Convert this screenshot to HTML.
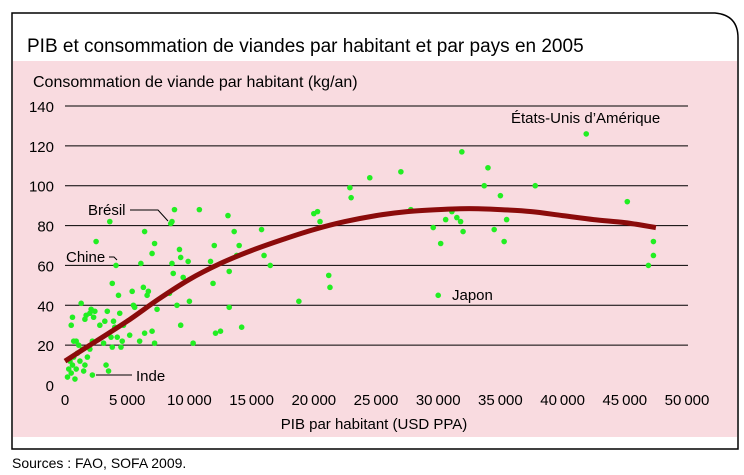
<!DOCTYPE html>
<html><head><meta charset="utf-8"><style>
body{margin:0;background:#fff;width:744px;height:475px;overflow:hidden;font-family:"Liberation Sans",sans-serif}
svg{display:block}
text{font-family:"Liberation Sans",sans-serif;fill:#000}
</style></head><body>
<svg width="744" height="475">
<path d="M12,13 H715 Q738,15 738,38 V449 H12 Z" fill="#fff" stroke="#000" stroke-width="1.5"/>
<rect x="13" y="61" width="724" height="376" fill="#f9dbe0"/>
<text x="27" y="52" font-size="19">PIB et consommation de viandes par habitant et par pays en 2005</text>
<text x="33" y="87" font-size="16">Consommation de viande par habitant (kg/an)</text>
<text x="374" y="429" font-size="15" text-anchor="middle">PIB par habitant (USD PPA)</text>
<text x="12" y="468" font-size="14">Sources : FAO, SOFA 2009.</text>
<g id="grid"></g><g id="pts"></g><g id="trend"></g><g id="ann"></g>
</svg>
<script>
const yTicks=[0,20,40,60,80,100,120,140];
const xTicks=[0,5000,10000,15000,20000,25000,30000,35000,40000,45000,50000];
const gdp=[200,300,400,500,600,700,800,900,1000,1200,1400,1600,1800,2000,2200,1100,1500,700,500,600,900,1300,1600,1700,2000,2100,2400,2300,2500,2200,2800,3200,3100,3300,3400,3500,3600,3700,3800,3900,4000,4100,4200,4300,4400,4500,4600,4700,3800,5200,5400,5500,5600,6000,6100,6300,6400,6400,6600,6700,7000,7000,7200,7200,7400,8400,8500,8600,8600,8700,8800,9000,9200,9300,9300,9500,9900,10000,10300,10800,11700,12000,11900,12100,12500,13100,13200,13200,13600,14000,14200,13800,15800,16000,16500,18800,20000,20300,21200,21300,20500,22900,23000,24500,27000,27800,29600,30200,30600,30000,31100,31500,31800,31900,32000,33700,34000,34500,35000,35300,35500,37800,41900,45200,46900,47300,47300];
const meat=[4,8,12,6,10,14,3,8,16,12,18,10,14,18,22,20,7,22,30,34,22,41,33,35,36,38,37,34,72,5,30,32,21,10,37,7,82,24,51,32,29,60,24,45,36,19,22,30,19,25,47,40,39,22,61,49,77,26,45,47,27,66,71,21,38,46,81,82,61,56,88,40,68,30,64,54,62,42,21,88,62,70,51,26,27,85,57,39,77,70,29,65,78,65,60,42,86,87,55,49,82,99,94,104,107,88,79,71,83,45,87,84,82,117,77,100,109,78,95,72,83,100,126,92,60,65,72];
const trendX=[0,2500,5000,7500,10000,12500,15000,17500,20000,22500,25000,27500,30000,32500,35000,37500,40000,42500,45000,47500];
const trendY=[12,22,32,43,53,61,67.5,73,78,82,85,87,88,88.5,88,87,85,83,81.5,79];
const X=v=>65+v*(622/50000), Y=v=>385-v*(279/140);
const NS="http://www.w3.org/2000/svg";
function mk(t,a,p){const e=document.createElementNS(NS,t);for(const k in a)e.setAttribute(k,a[k]);p.appendChild(e);return e;}
const grid=document.getElementById('grid');
yTicks.forEach(v=>{
 if(v>0){const l=mk('line',{x1:65,x2:688,y1:Y(v),y2:Y(v),stroke:'#000','stroke-width':1},grid);
 
 }
 const t=mk('text',{x:54,y:Y(v)+6,'font-size':15,'text-anchor':'end'},grid);t.textContent=v;
 
 
});
xTicks.forEach(v=>{
 const t=mk('text',{x:X(v),y:405,'font-size':15,'text-anchor':'middle'},grid);
 t.textContent=v===0?'0':(v/1000)+'\u2009000';
 
 
});
const pts=document.getElementById('pts');
gdp.forEach((g,i)=>{
 const c=mk('circle',{cx:X(g),cy:Y(meat[i]),r:2.8,fill:'#22ee22'},pts);
 
 
});
const P=trendX.map((x,i)=>[X(x),Y(trendY[i])]);
let d='M'+P[0][0]+','+P[0][1];
for(let i=0;i<P.length-1;i++){
 const p0=P[Math.max(0,i-1)],p1=P[i],p2=P[i+1],p3=P[Math.min(P.length-1,i+2)];
 d+=' C'+(p1[0]+(p2[0]-p0[0])/6).toFixed(1)+','+(p1[1]+(p2[1]-p0[1])/6).toFixed(1)+' '+(p2[0]-(p3[0]-p1[0])/6).toFixed(1)+','+(p2[1]-(p3[1]-p1[1])/6).toFixed(1)+' '+p2[0].toFixed(1)+','+p2[1].toFixed(1);
}
const tp=mk('path',{d:d,fill:'none',stroke:'#8b0b0b','stroke-width':5,'stroke-linejoin':'round'},document.getElementById('trend'));


const ann=document.getElementById('ann');
[['États-Unis d\u2019Amérique',511,123],['Brésil',88,215],['Chine',66,262],['Japon',452,300],['Inde',136,381]].forEach(a=>{
 const t=mk('text',{x:a[1],y:a[2],'font-size':15},ann);t.textContent=a[0];
 
 
});
[['M130,210 H158 L168,221'],['M109,257 H114 L117,260'],['M96,375 H132']].forEach(a=>{
 const p=mk('path',{d:a[0],fill:'none',stroke:'#000','stroke-width':1},ann);
 
 
});
</script>
</body></html>
